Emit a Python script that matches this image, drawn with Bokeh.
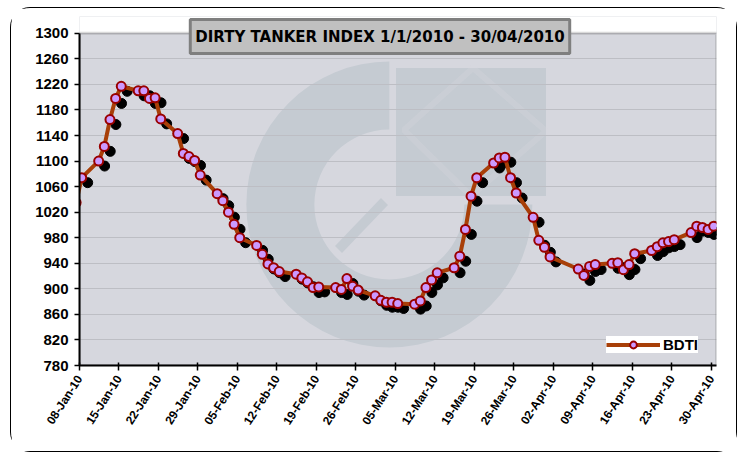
import pandas as pd
from math import pi
from bokeh.plotting import figure
from bokeh.models import (ColumnDataSource, CDSView, IndexFilter, FixedTicker,
                          DatetimeTickFormatter, Range1d, Legend, LegendItem,
                          BoxAnnotation, PolyAnnotation, Label)
from bokeh.transform import dodge
from bokeh.embed import file_html
from bokeh.resources import INLINE

# ---------------- data ----------------
dates = ["2010-01-07", "2010-01-08",
         "2010-01-11", "2010-01-12", "2010-01-13", "2010-01-14", "2010-01-15",
         "2010-01-18", "2010-01-19", "2010-01-20", "2010-01-21", "2010-01-22",
         "2010-01-25", "2010-01-26", "2010-01-27", "2010-01-28", "2010-01-29",
         "2010-02-01", "2010-02-02", "2010-02-03", "2010-02-04", "2010-02-05",
         "2010-02-08", "2010-02-09", "2010-02-10", "2010-02-11", "2010-02-12",
         "2010-02-15", "2010-02-16", "2010-02-17", "2010-02-18", "2010-02-19",
         "2010-02-22", "2010-02-23", "2010-02-24", "2010-02-25", "2010-02-26",
         "2010-03-01", "2010-03-02", "2010-03-03", "2010-03-04", "2010-03-05",
         "2010-03-08", "2010-03-09", "2010-03-10", "2010-03-11", "2010-03-12",
         "2010-03-15", "2010-03-16", "2010-03-17", "2010-03-18", "2010-03-19",
         "2010-03-22", "2010-03-23", "2010-03-24", "2010-03-25", "2010-03-26",
         "2010-03-29", "2010-03-30", "2010-03-31", "2010-04-01",
         "2010-04-06", "2010-04-07", "2010-04-08", "2010-04-09",
         "2010-04-12", "2010-04-13", "2010-04-14", "2010-04-15", "2010-04-16",
         "2010-04-19", "2010-04-20", "2010-04-21", "2010-04-22", "2010-04-23",
         "2010-04-26", "2010-04-27", "2010-04-28", "2010-04-29", "2010-04-30"]
bdti = [1035, 1074,
        1100, 1123, 1165, 1198, 1217,
        1210, 1210, 1198, 1199, 1166,
        1143, 1112, 1107, 1101, 1078,
        1049, 1038, 1020, 1001, 980,
        968, 954, 939, 933, 927,
        923, 917, 911, 902, 903,
        902, 899, 916, 904, 898,
        889, 882, 879, 879, 877,
        876, 881, 902, 914, 925,
        933, 951, 993, 1045, 1074,
        1097, 1105, 1106, 1074, 1050,
        1012, 976, 965, 950,
        931, 921, 935, 938,
        940, 941, 930, 938, 955,
        960, 966, 972, 974, 977,
        988, 998, 996, 993, 998]
tick_dates = ["2010-01-08", "2010-01-15", "2010-01-22", "2010-01-29", "2010-02-05",
              "2010-02-12", "2010-02-19", "2010-02-26", "2010-03-05", "2010-03-12",
              "2010-03-19", "2010-03-26", "2010-04-02", "2010-04-09", "2010-04-16",
              "2010-04-23", "2010-04-30"]
y_ticks = [780, 820, 860, 900, 940, 980, 1020, 1060, 1100, 1140, 1180, 1220, 1260, 1300]
y_min, y_max = 780, 1300
series_name = "BDTI"
title_text = "DIRTY TANKER INDEX 1/1/2010 - 30/04/2010"

DAY = 86400000.0
src = ColumnDataSource(dict(date=pd.to_datetime(dates), bdti=bdti))
tick_ms = [int(t.value // 10**6) for t in pd.to_datetime(tick_dates)]

W, H = 727, 445
# frame extended ~17px above the plot area so the title box (which overlaps it) is visible
p = figure(width=W, height=H, x_axis_type="datetime", output_backend="svg",
           toolbar_location=None,
           x_range=Range1d(pd.Timestamp("2010-01-08").value / 1e6,
                           pd.Timestamp("2010-04-30").value / 1e6 + 0.9 * DAY),
           y_range=Range1d(y_min, y_max + 26.3),
           min_border_left=68, min_border_right=22, min_border_top=8, min_border_bottom=88)
p.styles = {"border": "1.5px solid black", "border-radius": "20px",
            "margin-left": "10px", "margin-top": "7px"}
PLOT_BG = "#d6d7de"
p.background_fill_color = PLOT_BG
p.border_fill_color = "white"
p.outline_line_color = None

# white strip above the plot area (part of the page, not the plot)
p.add_layout(BoxAnnotation(bottom=y_max, fill_color="white", fill_alpha=1,
                           line_color=None, level="image"))

# ---- axes ----
p.xaxis.ticker = FixedTicker(ticks=tick_ms, minor_ticks=[])
fmt = "%d-%b-%y"
p.xaxis.formatter = DatetimeTickFormatter(
    microseconds=fmt, milliseconds=fmt, seconds=fmt, minsec=fmt, minutes=fmt,
    hourmin=fmt, hours=fmt, days=fmt, months=fmt, years=fmt, strip_leading_zeros=False)
p.xaxis.major_label_orientation = 1.0
p.yaxis.ticker = FixedTicker(ticks=y_ticks, minor_ticks=[])
p.yaxis.bounds = (y_min, y_max)
for ax in (p.xaxis, p.yaxis):
    ax.axis_line_color = "black"
    ax.axis_line_width = 2
    ax.major_tick_line_color = "black"
    ax.major_tick_line_width = 1.5
    ax.minor_tick_line_color = None
    ax.major_label_text_font = "Liberation Sans"
    ax.major_label_text_font_style = "bold"
    ax.major_label_text_color = "black"
p.xaxis.major_label_text_font_size = "12px"
p.yaxis.major_label_text_font_size = "15px"
p.xaxis.major_tick_in = 3
p.xaxis.major_tick_out = 5
p.yaxis.major_tick_in = 0
p.yaxis.major_tick_out = 5
p.xaxis.major_label_standoff = 6
p.yaxis.major_label_standoff = 6
p.xgrid.visible = False
p.ygrid.grid_line_color = "#bdbec4"
p.ygrid.grid_line_width = 1

# ---- watermark (decorative logo) ----
wm = "#c5cbd2"
p.annular_wedge(x=pd.Timestamp("2010-03-03 22:00"), y=1032,
                inner_radius=75, outer_radius=143,
                inner_radius_units="screen", outer_radius_units="screen",
                start_angle=pi / 2, end_angle=2 * pi, direction="anticlock",
                fill_color=wm, line_color=None, level="image")
p.add_layout(BoxAnnotation(left=383.5, right=533.5, top=58.5, bottom=186.5,
                           left_units="canvas", right_units="canvas",
                           top_units="canvas", bottom_units="canvas",
                           fill_color=wm, fill_alpha=1, line_color=None, level="image"))
p.add_layout(PolyAnnotation(xs=[460.5, 533.5, 458.5, 391.5], ys=[58.5, 121.5, 186.5, 120.5],
                            xs_units="canvas", ys_units="canvas",
                            fill_color=None, fill_alpha=0, line_color=PLOT_BG,
                            line_width=6, level="image"))
p.add_layout(PolyAnnotation(xs=[375.5, 329.5, 322.5, 368.5], ys=[195.5, 243.5, 236.5, 188.5],
                            xs_units="canvas", ys_units="canvas",
                            fill_color=wm, fill_alpha=1, line_color=None, level="image"))

# plot-area border (gray)
p.add_layout(BoxAnnotation(top=y_max, bottom=y_min, fill_alpha=0, fill_color=None,
                           line_color="#808080", line_width=3, level="underlay"))

# ---- series ----
shadow_view = CDSView(filter=IndexFilter(indices=list(range(1, len(dates)))))
shadow = p.scatter(x=dodge("date", 1.45 * DAY, range=p.x_range),
                   y=dodge("bdti", -7.8, range=p.y_range),
                   source=src, view=shadow_view, size=10,
                   fill_color="black", line_color="black")
line_r = p.line(x=dodge("date", 0.4 * DAY, range=p.x_range), y="bdti", source=src,
                line_color="#a83f08", line_width=4)
mark_r = p.scatter(x=dodge("date", 0.4 * DAY, range=p.x_range), y="bdti", source=src,
                   size=9, fill_color="#cc99ff", line_color="#990000", line_width=2)

legend = Legend(items=[LegendItem(label=series_name, renderers=[line_r, mark_r])],
                location=(527, 12), margin=0, padding=2, spacing=0,
                glyph_width=54, glyph_height=17, label_standoff=3,
                background_fill_color="white", background_fill_alpha=1,
                border_line_color=None,
                label_text_font="Liberation Sans", label_text_font_style="bold",
                label_text_font_size="15px", label_text_color="black")
p.add_layout(legend)

# ---- title box ----
p.add_layout(Label(x=367.5, y=27, x_units="canvas", y_units="canvas", text=title_text,
                   text_align="center", text_baseline="middle",
                   text_font="DejaVu Sans", text_font_style="bold",
                   text_font_size="15px", text_color="black",
                   background_fill_color="#c0c0c0", background_fill_alpha=1,
                   border_line_color="#7f7f7f", border_line_width=3,
                   padding=dict(left=5, right=5, top=8, bottom=8), level="overlay"))

open("out.html", "w").write(file_html(p, INLINE))
